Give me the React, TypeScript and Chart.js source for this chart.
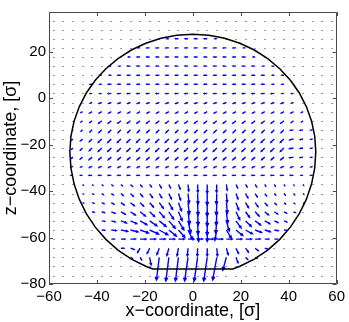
import React, { useEffect, useRef } from "react";
import { Chart, registerables } from "chart.js";

Chart.register(...registerables);

// ---- axes ----
const X_TICKS = [-60, -40, -20, 0, 20, 40, 60];
const Z_TICKS = [-80, -60, -40, -20, 0, 20];
const X_MIN = -60;
const X_MAX = 60;
const Z_MIN = -80;
const Z_MAX = 37.2;

// ---- quiver grid (sigma) ----
const GRID_X = [-58, -54, -50, -46, -42, -38, -34, -30, -26, -22, -18, -14, -10, -6, -2, 2, 6, 10, 14, 18, 22, 26, 30, 34, 38, 42, 46, 50, 54, 58];
const GRID_Z = [33.5, 29.58, 25.65, 21.73, 17.81, 13.89, 9.96, 6.04, 2.12, -1.81, -5.73, -9.65, -13.58, -17.5, -21.42, -25.35, -29.27, -33.19, -37.11, -41.04, -44.96, -48.88, -52.81, -56.73, -60.65, -64.58, -68.5, -72.42, -76.34];

// arrow magnitude per grid cell (rows follow GRID_Z, columns follow GRID_X)
const ARROW_MAG: number[][] = [
  [0,0,0,0,0,0,0,0,0,0,0,0,0,0,0,0,0,0,0,0,0,0,0,0,0,0,0,0,0,0],
  [0,0,0,0,0,0,0,0,0,0,0,0,0,0,0,0,0,0,0,0,0,0,0,0,0,0,0,0,0,0],
  [0,0,0,0,0,0,0,0,0,0,0,0,2,3,3,3,3,2,0,0,0,0,0,0,0,0,0,0,0,0],
  [0,0,0,0,0,0,0,0,0,2,3,3,3,3,3,3,3,3,3,3,2,0,0,0,0,0,0,0,0,0],
  [0,0,0,0,0,0,0,0,2,3,3,3,3,3,3,3,3,3,3,3,3,2,0,0,0,0,0,0,0,0],
  [0,0,0,0,0,0,2,2,3,3,3,3,3,3,3,3,3,3,3,3,3,3,2,2,0,0,0,0,0,0],
  [0,0,0,0,0,2,2,3,3,3,3,3,3,3,3,3,3,3,3,3,3,3,3,2,2,0,0,0,0,0],
  [0,0,0,0,2,2,3,3,3,3,3,3,3,3,3,3,3,3,3,3,3,3,3,2,2,0,0,0,0,0],
  [0,0,0,0,2,2,3,3,3,3,3,3,3,3,3,3,3,3,3,3,3,3,3,3,2,2,0,0,0,0],
  [0,0,0,0,2,3,3,3,3,3,3,3,3,3,3,3,3,3,3,3,3,3,3,3,3,2,0,0,0,0],
  [0,0,0,2,3,3,3,3,3,3,3,3,3,3,3,3,3,3,3,3,3,3,3,3,3,3,2,0,0,0],
  [0,0,0,2,3,4,4,4,4,4,4,4,4,4,4,4,4,4,4,4,4,4,4,4,4,3,2,0,0,0],
  [0,0,0,2,3,4,4,4,4,4,4,4,4,4,4,4,4,4,4,4,4,4,4,4,4,3,3,2,0,0],
  [0,0,2,3,4,5,5,5,5,5,5,5,5,5,5,5,5,5,5,5,5,5,5,5,5,4,3,2,0,0],
  [0,0,2,3,4,5,5,5,5,5,5,5,5,5,5,5,5,5,5,5,5,5,5,5,5,4,3,2,0,0],
  [0,0,2,3,4,4,4,4,4,4,4,4,4,4,4,4,4,4,4,4,4,4,4,4,4,4,3,2,0,0],
  [0,0,2,2,3,3,3,3,3,3,3,3,3,3,3,3,3,3,3,3,3,3,3,3,3,3,2,2,0,0],
  [0,0,2,2,3,3,3,3,3,3,3,3,3,3,3,3,3,3,3,3,3,3,3,3,3,3,2,2,0,0],
  [0,0,0,1,1,1.5,2,2,3,3,3,4,4,5,7,8,9,8,6,4,3,3,2,2,1.5,1,1,0,0,0],
  [0,0,0,1,1.5,2,2.5,3,4,4,5,5,6,7,10,11,12,11,9,6,5,4,3,2,2,1.5,1,0,0,0],
  [0,0,0,1,2,2.5,3,4,5,5,6,7,8,9,12,13,14,13,11,8,6,5,4,3,2,1.5,1,0,0,0],
  [0,0,0,0,2,3,4,5,6,7,7,8,9,10,13,14,15,14,12,9,7,6,5,4,3,2,0,0,0,0],
  [0,0,0,0,0,3,4,6,7,8,9,9,10,11,13,14,15,13,11,9,8,7,6,4,3,0,0,0,0,0],
  [0,0,0,0,0,3,5,7,8,9,10,10,10,10,11,12,12,11,10,9,8,7,6,4,3,0,0,0,0,0],
  [0,0,0,0,0,0,3,4,5,6,6,6,6,6,6,5,6,6,6,6,6,5,4,3,0,0,0,0,0,0],
  [0,0,0,0,0,0,0,3,4,5,6,7,8,8,8,8,8,8,7,6,5,4,3,0,0,0,0,0,0,0],
  [0,0,0,0,0,0,0,0,2,3,8,24,25,25,25,25,25,24,14,6,3,2,0,0,0,0,0,0,0,0],
  [0,0,0,0,0,0,0,0,0,0,0,0,0,0,0,0,0,0,0,0,0,0,0,0,0,0,0,0,0,0],
  [0,0,0,0,0,0,0,0,0,0,0,0,0,0,0,0,0,0,0,0,0,0,0,0,0,0,0,0,0,0],
];

// arrow direction per grid cell, degrees (0 = +x, 90 = +z)
const ARROW_DIR: number[][] = [
  [0,0,0,0,0,0,0,0,0,0,0,0,0,0,0,0,0,0,0,0,0,0,0,0,0,0,0,0,0,0],
  [0,0,0,0,0,0,0,0,0,0,0,0,0,0,0,0,0,0,0,0,0,0,0,0,0,0,0,0,0,0],
  [180,180,180,180,180,180,180,180,180,180,180,180,180,180,180,180,180,180,180,180,180,180,180,180,180,180,180,180,180,180],
  [180,180,180,180,180,180,180,180,180,180,180,180,180,180,180,180,180,180,180,180,180,180,180,180,180,180,180,180,180,180],
  [180,180,180,180,180,180,180,180,180,180,180,180,180,180,180,180,180,180,180,180,180,180,180,180,180,180,180,180,180,180],
  [180,180,180,180,180,180,180,180,180,180,180,180,180,180,180,180,180,180,180,180,180,180,180,180,180,180,180,180,180,180],
  [180,180,180,180,180,180,180,180,180,180,180,180,180,180,180,180,180,180,180,180,180,180,180,180,180,180,180,180,180,180],
  [180,180,180,180,180,180,180,180,180,180,180,180,180,180,180,180,180,180,180,180,180,180,180,180,180,180,180,180,180,180],
  [185,185,185,185,185,185,185,185,185,185,185,185,185,185,185,185,185,185,185,185,185,185,185,185,185,185,185,185,185,185],
  [200,200,200,200,200,200,200,200,200,200,200,200,200,200,200,200,200,200,200,200,200,200,200,200,200,200,200,200,200,200],
  [210,210,210,210,210,210,210,210,210,210,210,210,210,210,210,210,210,210,210,210,210,210,210,210,210,210,210,210,210,210],
  [220,220,220,220,220,220,220,220,220,220,220,220,220,220,220,220,220,220,220,220,220,220,220,220,220,220,220,220,220,220],
  [225,225,225,225,225,225,225,225,225,225,225,225,225,225,225,225,225,225,225,225,225,225,225,225,225,190,190,190,190,190],
  [225,225,225,225,225,225,225,225,225,225,225,225,225,225,225,225,225,225,225,225,225,225,225,225,225,195,195,195,195,195],
  [225,225,225,225,225,225,225,225,225,225,225,225,225,225,225,225,225,225,225,225,225,225,225,225,225,190,190,190,190,190],
  [220,220,220,220,220,220,220,220,220,220,220,220,220,220,220,220,220,220,220,220,220,220,220,220,220,190,190,190,190,190],
  [205,205,205,205,205,205,205,205,205,205,205,205,205,205,205,205,205,205,205,205,205,205,205,205,205,205,205,205,205,205],
  [180,180,180,180,180,180,180,180,180,180,180,180,180,180,180,180,180,180,180,180,180,180,180,180,180,180,180,180,180,180],
  [0,0,0,-45,-45,-45,-40,-45,-45,-50,-55,-60,-65,-70,-84,-88,-90,-92,-82,-65,-60,-60,-60,-60,-60,-60,-60,0,0,0],
  [0,0,0,-30,-30,-35,-35,-40,-45,-50,-55,-60,-65,-72,-84,-88,-90,-92,-85,-70,-62,-58,-55,-50,-50,-50,-50,0,0,0],
  [0,0,0,-20,-20,-25,-30,-35,-40,-45,-50,-55,-62,-70,-84,-88,-90,-92,-85,-70,-60,-55,-50,-45,-40,-40,-40,0,0,0],
  [0,0,0,0,-15,-20,-25,-30,-35,-40,-45,-50,-58,-68,-83,-88,-90,-92,-84,-65,-55,-48,-40,-35,-30,-25,0,0,0,0],
  [0,0,0,0,0,-10,-15,-20,-25,-30,-35,-40,-50,-60,-78,-88,-90,-95,-75,-55,-45,-38,-30,-25,-20,0,0,0,0,0],
  [0,0,0,0,0,-5,-8,-12,-15,-20,-25,-30,-40,-50,-65,-85,-90,-100,-60,-40,-30,-22,-18,-12,-8,0,0,0,0,0],
  [0,0,0,0,0,0,0,0,0,0,0,0,0,0,0,0,0,0,0,0,0,0,0,0,0,0,0,0,0,0],
  [0,0,0,0,0,0,0,0,-20,-120,-115,-110,-105,-100,-95,-92,-90,-85,-75,-65,-55,-40,-20,0,0,0,0,0,0,0],
  [0,0,0,0,0,0,0,0,-30,-60,-80,-97,-97,-97,-98,-98,-98,-100,-105,-70,-45,-30,0,0,0,0,0,0,0,0],
  [0,0,0,0,0,0,0,0,0,0,0,0,0,0,0,0,0,0,0,0,0,0,0,0,0,0,0,0,0,0],
  [0,0,0,0,0,0,0,0,0,0,0,0,0,0,0,0,0,0,0,0,0,0,0,0,0,0,0,0,0,0],
];

// quiver scale: sigma per unit of magnitude
const QUIVER_SCALE = 0.41;

// ---- boundary contour (sigma) ----
const BOUNDARY_X = [0, -6.7, -13.28, -19.63, -25.65, -31.23, -36.27, -40.7, -44.43, -47.39, -49.55, -50.86, -51.3, -50.86, -49.55, -47.39, -44.43, -40.7, -36.27, -31.23, -25.65, -19.63, -16.7, -8, 0, 8, 16.7, 19.63, 25.65, 31.23, 36.27, 40.7, 44.43, 47.39, 49.55, 50.86, 51.3, 50.86, 49.55, 47.39, 44.43, 40.7, 36.27, 31.23, 25.65, 19.63, 13.28, 6.7, 0];
const BOUNDARY_Z = [27.6, 27.17, 25.88, 23.75, 20.82, 17.14, 12.78, 7.8, 2.3, -3.64, -9.9, -16.4, -23, -29.97, -36.82, -43.44, -49.7, -55.51, -60.76, -65.37, -69.25, -72.34, -73.5, -73.5, -73.5, -73.5, -73.5, -72.34, -69.25, -65.37, -60.76, -55.51, -49.7, -43.44, -36.82, -29.97, -23, -16.4, -9.9, -3.64, 2.3, 7.8, 12.78, 17.14, 20.82, 23.75, 25.88, 27.17, 27.6];

const FONT = "'Liberation Sans', Arial, Helvetica, sans-serif";
const fmt = (v: number) => (v < 0 ? "\u2212" + Math.abs(v) : String(v));

const quiverPlugin = {
  id: "quiver",
  beforeDatasetsDraw(chart: any) {
    const { ctx, chartArea: a, scales } = chart;
    const xs = scales.x;
    const ys = scales.y;
    ctx.save();
    ctx.beginPath();
    ctx.rect(a.left, a.top, a.right - a.left, a.bottom - a.top);
    ctx.clip();
    ctx.lineWidth = 1.4;
    ctx.strokeStyle = "#0000ff";
    for (let k = 0; k < GRID_Z.length; k++) {
      for (let i = 0; i < GRID_X.length; i++) {
        const m = ARROW_MAG[k][i];
        const px = xs.getPixelForValue(GRID_X[i]);
        const py = ys.getPixelForValue(GRID_Z[k]);
        if (m <= 0) {
          ctx.fillStyle = "rgba(70,70,255,0.6)";
          ctx.fillRect(Math.round(px) - 1, Math.round(py), 2, 1);
          continue;
        }
        const t = (ARROW_DIR[k][i] * Math.PI) / 180;
        const ex = xs.getPixelForValue(GRID_X[i] + QUIVER_SCALE * m * Math.cos(t));
        const ey = ys.getPixelForValue(GRID_Z[k] + QUIVER_SCALE * m * Math.sin(t));
        const dx = ex - px;
        const dy = ey - py;
        const len = Math.hypot(dx, dy);
        const ang = Math.atan2(dy, dx);
        const h = Math.min(3.5, 0.3 * len);
        ctx.beginPath();
        ctx.moveTo(px, py);
        ctx.lineTo(ex, ey);
        ctx.moveTo(ex - h * Math.cos(ang - 0.45), ey - h * Math.sin(ang - 0.45));
        ctx.lineTo(ex, ey);
        ctx.lineTo(ex - h * Math.cos(ang + 0.45), ey - h * Math.sin(ang + 0.45));
        ctx.stroke();
      }
    }
    ctx.restore();
  },
};

const framePlugin = {
  id: "frame",
  afterDraw(chart: any) {
    const { ctx, chartArea: a, scales } = chart;
    const xs = scales.x;
    const ys = scales.y;
    const tl = 4;
    ctx.save();
    ctx.strokeStyle = "#4a4a4a";
    ctx.lineWidth = 1;
    ctx.beginPath();
    ctx.rect(Math.round(a.left) + 0.5, Math.round(a.top) + 0.5, Math.round(a.right - a.left) - 1, Math.round(a.bottom - a.top) - 1);
    for (const v of X_TICKS) {
      const p = Math.round(xs.getPixelForValue(v)) + 0.5;
      ctx.moveTo(p, a.bottom);
      ctx.lineTo(p, a.bottom - tl);
      ctx.moveTo(p, a.top);
      ctx.lineTo(p, a.top + tl);
    }
    for (const v of Z_TICKS) {
      const p = Math.round(ys.getPixelForValue(v)) + 0.5;
      ctx.moveTo(a.left, p);
      ctx.lineTo(a.left + tl, p);
      ctx.moveTo(a.right, p);
      ctx.lineTo(a.right - tl, p);
    }
    ctx.stroke();
    ctx.restore();
  },
};

export default function App() {
  const ref = useRef<HTMLCanvasElement | null>(null);
  useEffect(() => {
    if (!ref.current) return;
    const boundary = BOUNDARY_X.map((x, i) => ({ x, y: BOUNDARY_Z[i] }));
    const chart = new Chart(ref.current, {
      type: "scatter",
      data: {
        datasets: [
          {
            data: boundary,
            showLine: true,
            borderColor: "#000000",
            borderWidth: 1.5,
            pointRadius: 0,
            tension: 0,
            fill: false,
          },
        ],
      },
      options: {
        responsive: false,
        animation: false,
        events: [],
        layout: { padding: { top: 1, right: 5, left: 0, bottom: 0 } },
        plugins: { legend: { display: false }, tooltip: { enabled: false } },
        scales: {
          x: {
            type: "linear",
            min: X_MIN,
            max: X_MAX,
            afterBuildTicks: (s: any) => {
              s.ticks = X_TICKS.map((value) => ({ value }));
            },
            afterFit: (s: any) => {
              s.height = 38;
            },
            grid: { display: false, drawTicks: false },
            border: { display: false },
            ticks: {
              padding: 4,
              autoSkip: false,
              maxRotation: 0,
              color: "#000",
              font: { family: FONT, size: 15 },
              callback: (v: any) => fmt(Number(v)),
            },
            title: {
              display: true,
              text: "x\u2212coordinate, [\u03c3]",
              color: "#000",
              font: { family: FONT, size: 18 },
              padding: 0,
            },
          },
          y: {
            type: "linear",
            min: Z_MIN,
            max: Z_MAX,
            afterBuildTicks: (s: any) => {
              s.ticks = Z_TICKS.map((value) => ({ value }));
            },
            afterFit: (s: any) => {
              s.width = 49;
            },
            grid: { display: false, drawTicks: false },
            border: { display: false },
            ticks: {
              padding: 3,
              autoSkip: false,
              color: "#000",
              font: { family: FONT, size: 15 },
              callback: (v: any) => fmt(Number(v)),
            },
            title: {
              display: true,
              text: "z\u2212coordinate, [\u03c3]",
              color: "#000",
              font: { family: FONT, size: 18 },
              padding: 0,
            },
          },
        },
      },
      plugins: [quiverPlugin, framePlugin],
    } as any);
    return () => chart.destroy();
  }, []);
  return (
    <div style={{ position: "absolute", left: 0, top: 0, width: 349, height: 322, background: "#fff" }}>
      <canvas ref={ref} width={349} height={322} style={{ display: "block" }} />
    </div>
  );
}
